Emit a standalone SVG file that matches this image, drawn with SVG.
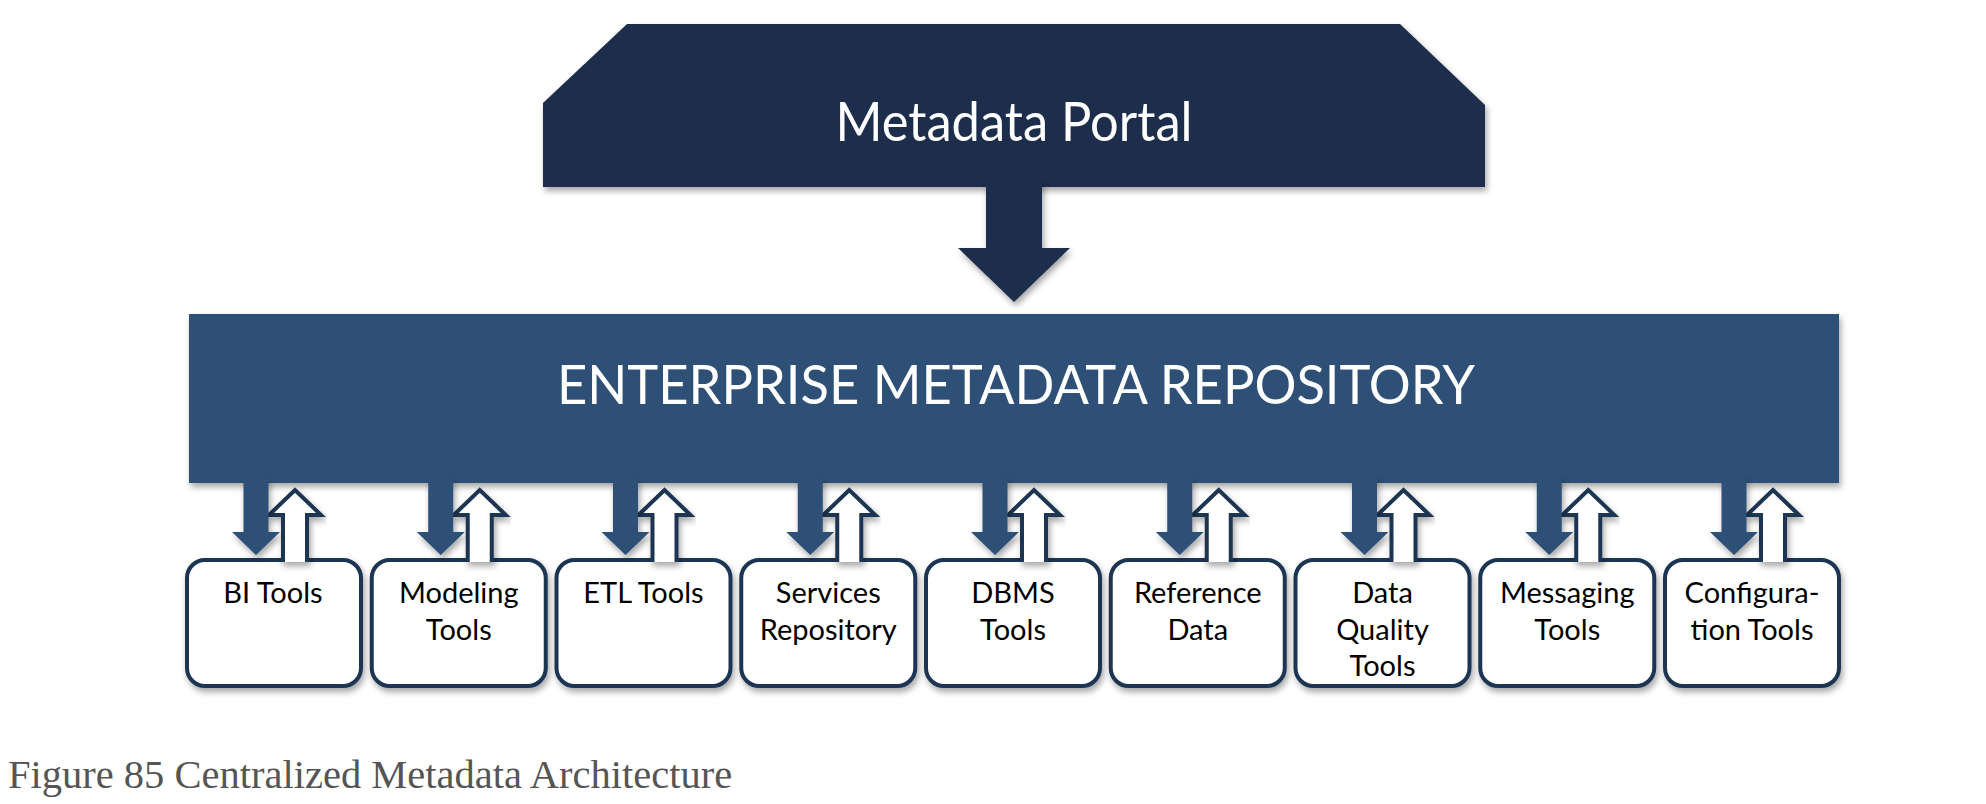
<svg xmlns="http://www.w3.org/2000/svg" width="1986" height="804" viewBox="0 0 1986 804">
<defs>
<style>
.title{font-family:Lato,"Open Sans","Liberation Sans",sans-serif;fill:#ffffff;text-anchor:middle;font-size:54px}
.lbl{font-family:Lato,"Open Sans","Liberation Sans",sans-serif;fill:#000000;text-anchor:middle;font-size:29px}
.box{fill:#ffffff;stroke:#1f3452;stroke-width:4}
.up{fill:#ffffff;stroke:#1f3452;stroke-width:4;stroke-linejoin:miter}
.down{fill:#2d5076}
.cap{font-family:"Liberation Serif","Times New Roman",serif;font-size:40.5px;fill:#555555}
</style>
<filter id="sh" x="-10%" y="-10%" width="120%" height="130%">
<feDropShadow dx="2" dy="4" stdDeviation="3" flood-color="#000" flood-opacity="0.35"/>
</filter>
</defs>
<rect width="1986" height="804" fill="#ffffff"/>

<g id="portal">
<polygon points="627,24 1400,24 1485,105 1485,187 543,187 543,103" fill="#1e2f4b" filter="url(#sh)"/>
<text class="title" x="1014" y="141" textLength="357" lengthAdjust="spacingAndGlyphs">Metadata Portal</text>
</g>

<g id="repository">
<rect x="189" y="314" width="1650" height="169" fill="#2d5076" filter="url(#sh)"/>
<text class="title" x="1016" y="404" textLength="918" lengthAdjust="spacingAndGlyphs">ENTERPRISE METADATA REPOSITORY</text>
</g>

<g id="bi-tools" transform="translate(185,0)"><rect class="box" x="2" y="560" width="174" height="126" rx="18" filter="url(#sh)"/><text class="lbl" x="88" y="603">BI Tools</text></g>
<g id="modeling-tools" transform="translate(369.75,0)"><rect class="box" x="2" y="560" width="174" height="126" rx="18" filter="url(#sh)"/><text class="lbl" x="89" y="603">Modeling</text><text class="lbl" x="89" y="640">Tools</text></g>
<g id="etl-tools" transform="translate(554.5,0)"><rect class="box" x="2" y="560" width="174" height="126" rx="18" filter="url(#sh)"/><text class="lbl" x="89" y="603">ETL Tools</text></g>
<g id="services-repository" transform="translate(739.25,0)"><rect class="box" x="2" y="560" width="174" height="126" rx="18" filter="url(#sh)"/><text class="lbl" x="89" y="603">Services</text><text class="lbl" x="89" y="640">Repository</text></g>
<g id="dbms-tools" transform="translate(924,0)"><rect class="box" x="2" y="560" width="174" height="126" rx="18" filter="url(#sh)"/><text class="lbl" x="89" y="603">DBMS</text><text class="lbl" x="89" y="640">Tools</text></g>
<g id="reference-data" transform="translate(1108.75,0)"><rect class="box" x="2" y="560" width="174" height="126" rx="18" filter="url(#sh)"/><text class="lbl" x="89" y="603">Reference</text><text class="lbl" x="89" y="640">Data</text></g>
<g id="data-quality-tools" transform="translate(1293.5,0)"><rect class="box" x="2" y="560" width="174" height="126" rx="18" filter="url(#sh)"/><text class="lbl" x="89" y="603">Data</text><text class="lbl" x="89" y="640">Quality</text><text class="lbl" x="89" y="676">Tools</text></g>
<g id="messaging-tools" transform="translate(1478.25,0)"><rect class="box" x="2" y="560" width="174" height="126" rx="18" filter="url(#sh)"/><text class="lbl" x="89" y="603">Messaging</text><text class="lbl" x="89" y="640">Tools</text></g>
<g id="configuration-tools" transform="translate(1663,0)"><rect class="box" x="2" y="560" width="174" height="126" rx="18" filter="url(#sh)"/><text class="lbl" x="89" y="603">Configura-</text><text class="lbl" x="89" y="640">tion Tools</text></g>

<g id="connectors">
<path d="M986,180 H1042 V248 H1070 L1014,302 L958,248 H986 Z" fill="#1e2f4b" filter="url(#sh)"/>
<g transform="translate(185,0)"><path class="up" d="M98,562 V515 H84 L110,490 L136,515 H122 V562" filter="url(#sh)"/><path class="down" d="M58.5,478 H83.5 V532 H95 L71,555 L47,532 H58.5 Z" filter="url(#sh)"/></g>
<g transform="translate(369.75,0)"><path class="up" d="M98,562 V515 H84 L110,490 L136,515 H122 V562" filter="url(#sh)"/><path class="down" d="M58.5,478 H83.5 V532 H95 L71,555 L47,532 H58.5 Z" filter="url(#sh)"/></g>
<g transform="translate(554.5,0)"><path class="up" d="M98,562 V515 H84 L110,490 L136,515 H122 V562" filter="url(#sh)"/><path class="down" d="M58.5,478 H83.5 V532 H95 L71,555 L47,532 H58.5 Z" filter="url(#sh)"/></g>
<g transform="translate(739.25,0)"><path class="up" d="M98,562 V515 H84 L110,490 L136,515 H122 V562" filter="url(#sh)"/><path class="down" d="M58.5,478 H83.5 V532 H95 L71,555 L47,532 H58.5 Z" filter="url(#sh)"/></g>
<g transform="translate(924,0)"><path class="up" d="M98,562 V515 H84 L110,490 L136,515 H122 V562" filter="url(#sh)"/><path class="down" d="M58.5,478 H83.5 V532 H95 L71,555 L47,532 H58.5 Z" filter="url(#sh)"/></g>
<g transform="translate(1108.75,0)"><path class="up" d="M98,562 V515 H84 L110,490 L136,515 H122 V562" filter="url(#sh)"/><path class="down" d="M58.5,478 H83.5 V532 H95 L71,555 L47,532 H58.5 Z" filter="url(#sh)"/></g>
<g transform="translate(1293.5,0)"><path class="up" d="M98,562 V515 H84 L110,490 L136,515 H122 V562" filter="url(#sh)"/><path class="down" d="M58.5,478 H83.5 V532 H95 L71,555 L47,532 H58.5 Z" filter="url(#sh)"/></g>
<g transform="translate(1478.25,0)"><path class="up" d="M98,562 V515 H84 L110,490 L136,515 H122 V562" filter="url(#sh)"/><path class="down" d="M58.5,478 H83.5 V532 H95 L71,555 L47,532 H58.5 Z" filter="url(#sh)"/></g>
<g transform="translate(1663,0)"><path class="up" d="M98,562 V515 H84 L110,490 L136,515 H122 V562" filter="url(#sh)"/><path class="down" d="M58.5,478 H83.5 V532 H95 L71,555 L47,532 H58.5 Z" filter="url(#sh)"/></g>
</g>

<text class="cap" x="8" y="788">Figure 85 Centralized Metadata Architecture</text>
</svg>
